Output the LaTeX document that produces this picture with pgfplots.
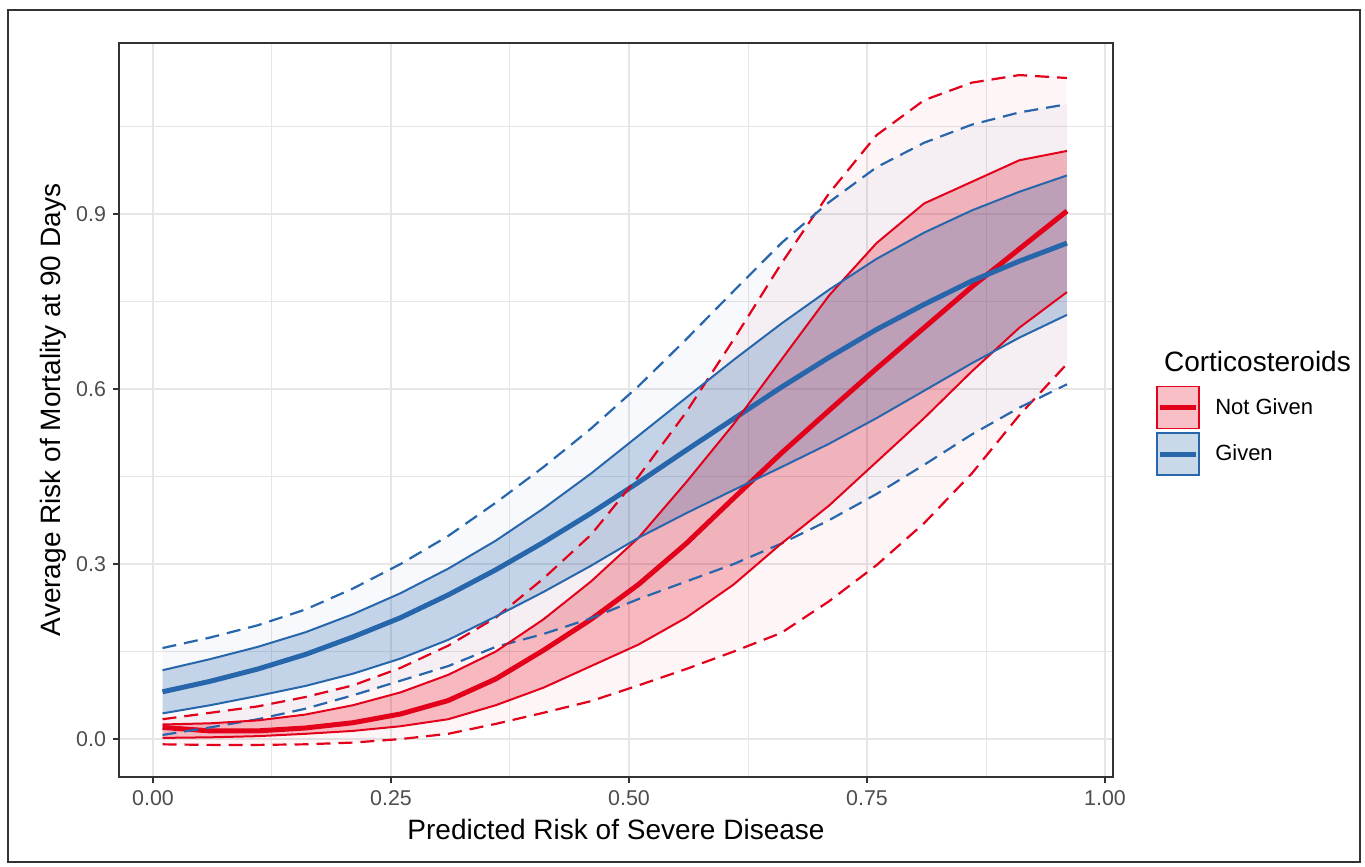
\documentclass[border=0pt]{standalone}
\usepackage{fontspec}
\setmainfont{Liberation Sans}
\usepackage{pgfplots}
\usepackage{pgfplotstable}
\pgfplotsset{compat=1.18}
\usepgfplotslibrary{fillbetween}
\definecolor{cortred}{HTML}{E2001A}
\definecolor{cortblue}{HTML}{2866AC}
\definecolor{gridgray}{HTML}{E6E6E6}
\definecolor{framegray}{HTML}{333333}
\definecolor{ticktext}{HTML}{4D4D4D}

% predicted risk, then centre / CI / prediction band for each group
\pgfplotstableread{
x    bc    bl    bu    bpl   bpu   rc    rl    ru    rpl    rpu
0.01 0.081 0.044 0.118 0.007 0.156 0.020 0.002 0.025 -0.009 0.034
0.06 0.099 0.058 0.137 0.020 0.174 0.014 0.003 0.027 -0.010 0.045
0.11 0.120 0.074 0.158 0.034 0.195 0.014 0.005 0.032 -0.010 0.056
0.16 0.145 0.091 0.183 0.052 0.222 0.019 0.009 0.042 -0.009 0.072
0.21 0.175 0.112 0.214 0.075 0.258 0.028 0.014 0.058 -0.006 0.092
0.26 0.208 0.138 0.250 0.100 0.300 0.043 0.022 0.080 0.000 0.122
0.31 0.247 0.170 0.292 0.125 0.348 0.066 0.034 0.110 0.009 0.160
0.36 0.290 0.210 0.340 0.158 0.405 0.103 0.058 0.150 0.026 0.208
0.41 0.337 0.252 0.395 0.180 0.466 0.152 0.088 0.205 0.045 0.275
0.46 0.387 0.297 0.455 0.207 0.532 0.205 0.125 0.270 0.065 0.350
0.51 0.440 0.345 0.520 0.240 0.605 0.265 0.162 0.345 0.092 0.450
0.56 0.495 0.387 0.585 0.270 0.685 0.335 0.208 0.440 0.120 0.560
0.61 0.549 0.427 0.650 0.300 0.768 0.413 0.265 0.540 0.150 0.685
0.66 0.603 0.466 0.712 0.335 0.850 0.490 0.335 0.650 0.182 0.815
0.71 0.654 0.506 0.770 0.375 0.920 0.563 0.400 0.760 0.236 0.935
0.76 0.702 0.550 0.823 0.420 0.980 0.635 0.475 0.850 0.298 1.035
0.81 0.745 0.597 0.868 0.470 1.022 0.705 0.550 0.918 0.370 1.095
0.86 0.785 0.644 0.906 0.522 1.053 0.775 0.630 0.955 0.455 1.125
0.91 0.819 0.688 0.938 0.568 1.074 0.840 0.705 0.992 0.555 1.138
0.96 0.850 0.727 0.966 0.608 1.088 0.905 0.766 1.008 0.643 1.133
}\risk

\begin{document}
\begin{tikzpicture}
\begin{axis}[
  at={(59.5pt,45pt)}, anchor=south west,
  scale only axis, width=497pt, height=367pt,
  xmin=-0.0357, xmax=1.0084, ymin=-0.065, ymax=1.193,
  xtick={0,0.25,0.5,0.75,1}, xticklabels={0.00,0.25,0.50,0.75,1.00},
  ytick={0,0.3,0.6,0.9}, yticklabels={0.0,0.3,0.6,0.9},
  minor xtick={0.125,0.375,0.625,0.875},
  minor ytick={0.15,0.45,0.75,1.05},
  grid=both,
  major grid style={gridgray, line width=1pt},
  minor grid style={gridgray, line width=0.5pt},
  tick pos=left,
  tick align=outside, major tick length=3pt, minor tick length=0.01pt,
  tick style={framegray, line width=0.8pt},
  axis line style={framegray, line width=0.8pt},
  ticklabel style={font=\fontsize{10.7}{12}\selectfont, text=ticktext},
  xlabel={Predicted Risk of Severe Disease},
  ylabel={Average Risk of Mortality at 90 Days},
  label style={font=\fontsize{14}{16}\selectfont},
  xlabel style={at={(axis description cs:0.5,-0.0858)}, anchor=base},
  ylabel style={at={(axis description cs:-0.0584,0.5)}, anchor=base},
  legend cell align=left,
  legend style={at={(axis description cs:1.0433,0.4714)}, anchor=west, draw=none, fill=none,
    inner sep=0pt, row sep=1.5pt, column sep=7.5pt,
    nodes={inner sep=0pt}, font=\fontsize{11}{13}\selectfont},
  legend image code/.code={
    \draw[#1, line width=0.9pt, fill opacity=0.25] (0pt,-10.5pt) rectangle (21pt,10.5pt);
    \draw[#1, line width=2.4pt] (1.5pt,0pt) -- (19.5pt,0pt);
  },
]
\addlegendimage{draw=cortred, fill=cortred}
\addlegendentry{Not Given}
\addlegendimage{draw=cortblue, fill=cortblue}
\addlegendentry{Given}

% boundary paths
\addplot[name path=rpu, draw=none] table[x=x,y=rpu]{\risk};
\addplot[name path=rpl, draw=none] table[x=x,y=rpl]{\risk};
\addplot[name path=bpu, draw=none] table[x=x,y=bpu]{\risk};
\addplot[name path=bpl, draw=none] table[x=x,y=bpl]{\risk};
\addplot[name path=ru, draw=none] table[x=x,y=ru]{\risk};
\addplot[name path=rl, draw=none] table[x=x,y=rl]{\risk};
\addplot[name path=bu, draw=none] table[x=x,y=bu]{\risk};
\addplot[name path=bl, draw=none] table[x=x,y=bl]{\risk};

% ribbons
\addplot[cortred, fill opacity=0.04, draw=none] fill between[of=rpu and rpl];
\addplot[cortblue, fill opacity=0.04, draw=none] fill between[of=bpu and bpl];
\addplot[cortred, fill opacity=0.25, draw=none] fill between[of=ru and rl];
\addplot[cortblue, fill opacity=0.25, draw=none] fill between[of=bu and bl];

% centre lines
\addplot[cortred, line width=2.5pt] table[x=x,y=rc]{\risk};
\addplot[cortblue, line width=2.5pt] table[x=x,y=bc]{\risk};

% prediction bands
\addplot[cortred, line width=1.1pt, dash pattern=on 7pt off 4pt] table[x=x,y=rpu]{\risk};
\addplot[cortred, line width=1.1pt, dash pattern=on 7pt off 4pt] table[x=x,y=rpl]{\risk};
\addplot[cortblue, line width=1.1pt, dash pattern=on 7pt off 4pt] table[x=x,y=bpu]{\risk};
\addplot[cortblue, line width=1.1pt, dash pattern=on 7pt off 4pt] table[x=x,y=bpl]{\risk};

% confidence bands
\addplot[cortred, line width=1pt] table[x=x,y=ru]{\risk};
\addplot[cortred, line width=1pt] table[x=x,y=rl]{\risk};
\addplot[cortblue, line width=1pt] table[x=x,y=bu]{\risk};
\addplot[cortblue, line width=1pt] table[x=x,y=bl]{\risk};
\end{axis}
\node[anchor=base west, font=\fontsize{14}{16}\selectfont] at (578.5pt,247.5pt) {Corticosteroids};
\draw[line width=0.9pt, black!80] (4pt,2.5pt) rectangle (680pt,428.5pt);
\path (0,0) rectangle (682.5pt,433.5pt);
\end{tikzpicture}
\end{document}
